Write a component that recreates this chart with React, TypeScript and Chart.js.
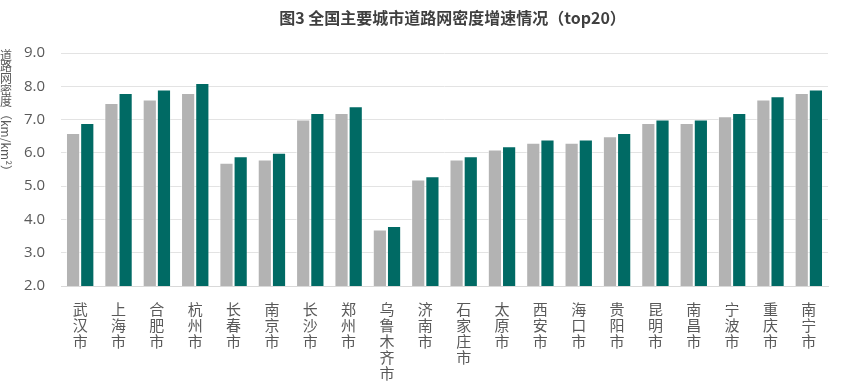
import React, { useEffect, useRef } from "react";
import { Chart, registerables } from "chart.js";

Chart.register(...registerables);

const titleText = "图3 全国主要城市道路网密度增速情况（top20）";
const yAxisCjk = ["道", "路", "网", "密", "度"];
const yAxisUnit = "（km/km²）";
const cities = [
  "武汉市", "上海市", "合肥市", "杭州市", "长春市", "南京市", "长沙市", "郑州市", "乌鲁木齐市", "济南市",
  "石家庄市", "太原市", "西安市", "海口市", "贵阳市", "昆明市", "南昌市", "宁波市", "重庆市", "南宁市",
];
const prevValues = [6.6, 7.5, 7.6, 7.8, 5.7, 5.8, 7.0, 7.2, 3.7, 5.2, 5.8, 6.1, 6.3, 6.3, 6.5, 6.9, 6.9, 7.1, 7.6, 7.8];
const currValues = [6.9, 7.8, 7.9, 8.1, 5.9, 6.0, 7.2, 7.4, 3.8, 5.3, 5.9, 6.2, 6.4, 6.4, 6.6, 7.0, 7.0, 7.2, 7.7, 7.9];
const yMin = 2;
const yMax = 9;
const yStep = 1;

const FONT = '"Open Sans", "Noto Sans CJK SC", sans-serif';
const CJK = '"Noto Sans CJK SC", sans-serif';

const decorPlugin = {
  id: "decor",
  afterDraw(chart: any) {
    const ctx = chart.ctx as CanvasRenderingContext2D;
    ctx.save();
    // title
    ctx.font = `bold 16px ${CJK}`;
    ctx.fillStyle = "#3F3F3F";
    ctx.textAlign = "center";
    ctx.textBaseline = "middle";
    ctx.fillText(titleText, 452.5, 17.5);
    // y axis title
    ctx.font = `12px ${CJK}`;
    ctx.fillStyle = "#595959";
    let y = 55;
    for (const ch of yAxisCjk) {
      ctx.fillText(ch, 6, y);
      y += 11.7;
    }
    ctx.translate(6, y - 5.5);
    ctx.rotate(Math.PI / 2);
    ctx.textAlign = "left";
    ctx.fillText(yAxisUnit, 0, 0);
    ctx.restore();
  },
};

export default function App() {
  const ref = useRef<HTMLCanvasElement>(null);
  useEffect(() => {
    if (!ref.current) return;
    const chart = new Chart(ref.current, {
      type: "bar",
      data: {
        labels: cities.map((c) => c.split("")),
        datasets: [
          {
            label: "上年",
            data: prevValues,
            backgroundColor: "#B3B3B3",
            borderColor: "rgba(255,255,255,0.55)",
            borderWidth: 1,
            categoryPercentage: 0.74,
            barPercentage: 1,
          },
          {
            label: "本年",
            data: currValues,
            backgroundColor: "#006A64",
            borderColor: "rgba(255,255,255,0.3)",
            borderWidth: 1,
            categoryPercentage: 0.74,
            barPercentage: 1,
          },
        ],
      },
      options: {
        responsive: false,
        animation: false,
        layout: { padding: { top: 53, left: 0, right: 32, bottom: 0 } },
        plugins: { legend: { display: false }, title: { display: false }, tooltip: { enabled: false } },
        scales: {
          x: {
            grid: { display: false, drawTicks: false },
            border: { display: true, color: "#D9D9D9", width: 1 },
            ticks: {
              color: "#595959",
              font: { family: CJK, size: 15, lineHeight: "16px" } as any,
              padding: 15,
              maxRotation: 0,
              autoSkip: false,
            },
            afterFit(scale: any) {
              scale.height = 105;
            },
          },
          y: {
            min: yMin,
            max: yMax,
            grid: { color: "#E3E3E3", lineWidth: 1, drawTicks: false },
            border: { display: false },
            ticks: {
              stepSize: yStep,
              color: "#595959",
              font: { family: FONT, size: 15 },
              padding: 16,
              callback: (v: any) => Number(v).toFixed(1),
            },
            afterFit(scale: any) {
              scale.width = 61;
            },
          },
        },
      },
      plugins: [decorPlugin],
    });
    return () => chart.destroy();
  }, []);
  return (
    <div style={{ position: "fixed", left: 0, top: 0, width: 860, height: 391, background: "#fff" }}>
      <canvas ref={ref} width={860} height={391} />
    </div>
  );
}
